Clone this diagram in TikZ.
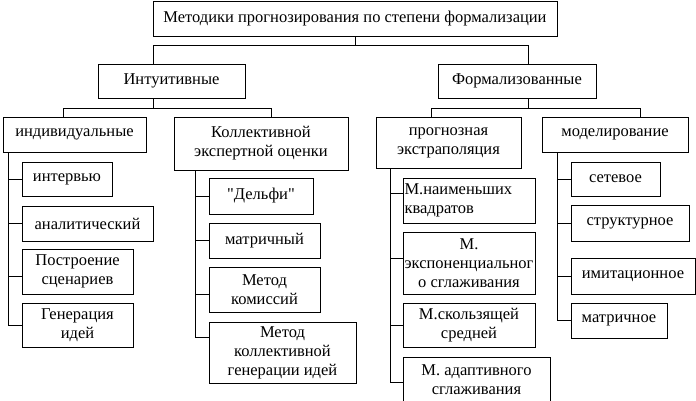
\documentclass[tikz,border=0pt]{standalone}
\usepackage{fontspec}
\setmainfont{Liberation Serif}
\newfontfamily\plainquote{Liberation Serif}
\usepackage{tikz}
\usetikzlibrary{positioning, calc}

\begin{document}
\begin{tikzpicture}[x=1pt, y=-1pt, font=\fontsize{16.5}{19}\selectfont, line width=0.8pt]
    \tikzstyle{box} = [rectangle, draw=black, inner sep=1pt, align=center]

    \useasboundingbox (0,0) rectangle (696,401);

    % levels 1 and 2
    \node (top)  [box, minimum width=404, minimum height=35] at (355,18.5) {Методики прогнозирования по степени формализации};
    \node (intu) [box, minimum width=147, minimum height=34] at (171.5,81) {Интуитивные};
    \node (form) [box, minimum width=158, minimum height=34] at (517,81) {Формализованные};

    % level 3
    \node (indiv) [box, minimum width=143, minimum height=35] at (74.5,134.5) {индивидуальные};
    \node (coll)  [box, minimum width=174, minimum height=53] at (261,143.5) {Коллективной\\экспертной оценки};
    \node (prog)  [box, minimum width=145, minimum height=51] at (448.5,142.5) {прогнозная\\экстраполяция};
    \node (model) [box, minimum width=146, minimum height=35] at (615,134.5) {моделирование};

    % individual
    \node (intv) [box, minimum width=90,  minimum height=34] at (67,179) {интервью};
    \node (anal) [box, minimum width=131, minimum height=35] at (87.5,223.5) {аналитический};
    \node (post) [box, minimum width=111, minimum height=45] at (77.5,271.5) {Построение\\сценариев};
    \node (gen)  [box, minimum width=111, minimum height=44] at (77.5,325) {Генерация\\идей};

    % collective
    \node (delphi)  [box, minimum width=104, minimum height=36] at (261,196) {{\plainquote"}Дельфи{\plainquote"}};
    \node (matr)    [box, minimum width=111, minimum height=35] at (264.5,240.5) {матричный};
    \node (komis)   [box, minimum width=111, minimum height=45] at (264.5,289.5) {Метод\\комиссий};
    \node (kollgen) [box, minimum width=147, minimum height=61] at (282.5,352.5) {Метод\\коллективной\\генерации идей};

    % extrapolation
    \node (mnk)   [box, minimum width=132, minimum height=45, text width=129, align=left] at (469,200.5) {М.наименьших\\квадратов};
    \node (expo)  [box, minimum width=132, minimum height=62] at (469,263) {М.\\экспоненциальног\\о сглаживания};
    \node (skolz) [box, minimum width=132, minimum height=44] at (469,325) {М.скользящей\\средней};
    \node (adapt) [box, minimum width=147, minimum height=45] at (476.5,379.5) {М. адаптивного\\сглаживания};

    % modelling
    \node (netw)  [box, minimum width=89,  minimum height=34] at (615.5,179) {сетевое};
    \node (struc) [box, minimum width=118, minimum height=36] at (630,223) {структурное};
    \node (imit)  [box, minimum width=124, minimum height=36] at (633,276) {имитационное};
    \node (matr2) [box, minimum width=96,  minimum height=35] at (619,320.5) {матричное};

    % buses
    \coordinate (b0l) at (153,45);
    \coordinate (b0r) at (528,45);
    \coordinate (b1l) at (63,108);
    \coordinate (b1r) at (271,108);
    \coordinate (b2l) at (431,108);
    \coordinate (b2r) at (640,108);

    \draw (top.south) -- (top.south |- b0l);
    \draw (b0l |- intu.north) -- (b0l) -- (b0r) -- (b0r |- form.north);
    \draw (b0l |- intu.south) -- (b0l |- b1l);
    \draw (b1l |- indiv.north) -- (b1l) -- (b1r) -- (b1r |- coll.north);
    \draw (b0r |- form.south) -- (b0r |- b2l);
    \draw (b2l |- prog.north) -- (b2l) -- (b2r) -- (b2r |- model.north);

    % spines
    \coordinate (s1) at (8,0);
    \coordinate (s2) at (195,0);
    \coordinate (s3) at (390,0);
    \coordinate (s4) at (557,0);

    % entry points that sit off the box middle
    \coordinate (postw)    at ([yshift=-5pt]post.west);
    \coordinate (komisw)   at ([yshift=-5pt]komis.west);
    \coordinate (kollgenw) at ([yshift=15pt]kollgen.west);
    \coordinate (mnkw)     at ([yshift=7pt]mnk.west);
    \coordinate (expow)    at ([yshift=5pt]expo.west);
    \coordinate (adaptw)   at ([yshift=-3pt]adapt.west);

    \draw (s1 |- indiv.south) |- (gen.west);
    \foreach \n in {intv.west, anal.west, postw} \draw (s1 |- \n) -- (\n);

    \draw (s2 |- coll.south) |- (kollgenw);
    \foreach \n in {delphi.west, matr.west, komisw} \draw (s2 |- \n) -- (\n);

    \draw (s3 |- prog.south) |- (adaptw);
    \foreach \n in {mnkw, expow, skolz.west} \draw (s3 |- \n) -- (\n);

    \draw (s4 |- model.south) |- (matr2.west);
    \foreach \n in {netw.west, struc.west, imit.west} \draw (s4 |- \n) -- (\n);
\end{tikzpicture}
\end{document}
